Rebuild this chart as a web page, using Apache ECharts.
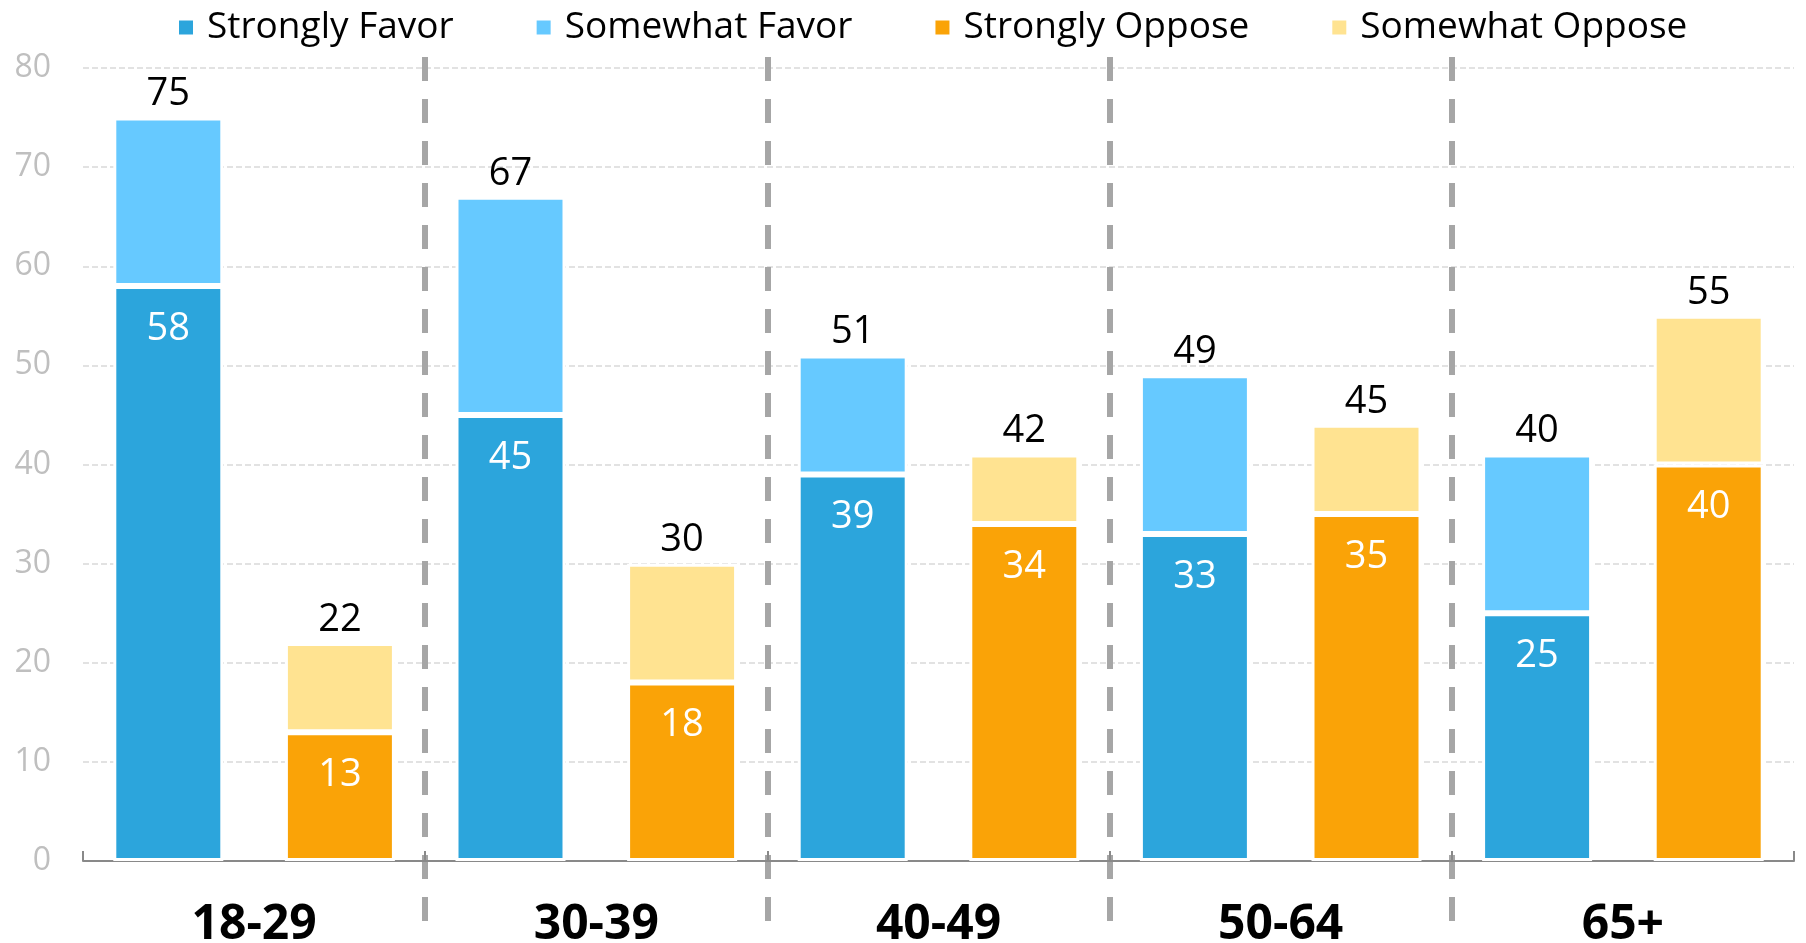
<!DOCTYPE html>
<html>
<head>
<meta charset="utf-8">
<script src="https://cdn.jsdelivr.net/npm/echarts@6/dist/echarts.min.js"></script>
<style>
  html, body { margin: 0; padding: 0; background: #fff; }
  #chart { width: 1806px; height: 943px; }
</style>
</head>
<body>
<div id="chart"></div>
<script>
// age groups on the x axis
const ageGroups = ['18-29', '30-39', '40-49', '50-64', '65+'];

// stacked segments (as drawn)
const stronglyFavor = [58, 45, 39, 33, 25];
const somewhatFavor = [17, 22, 12, 16, 16];
const stronglyOppose = [13, 18, 34, 35, 40];
const somewhatOppose = [9, 12, 7, 9, 15];

// totals printed above each stack
const favorTotals = [75, 67, 51, 49, 40];
const opposeTotals = [22, 30, 42, 45, 55];

const yTicks = { min: 0, max: 80, interval: 10 };

const FONT = '"Open Sans", "Noto Sans", sans-serif';
const colors = {
  stronglyFavor: '#2ca5dc',
  somewhatFavor: '#66c9ff',
  stronglyOppose: '#faa307',
  somewhatOppose: '#ffe391',
};

const chart = echarts.init(document.getElementById('chart'));

const barBase = {
  type: 'bar',
  xAxisIndex: 0,
  yAxisIndex: 0,
  barWidth: 110,
  barGap: '56%',
  itemStyle: { borderColor: '#fff', borderWidth: 3 },
};

// white value label near the top of the lower segment
const innerLabel = {
  show: true,
  position: 'insideTop',
  distance: 24,
  color: '#fff',
  fontFamily: FONT,
  fontSize: 38,
};

// black total above the stack
function totalLabel(totals) {
  return {
    show: true,
    position: 'top',
    distance: 4,
    color: '#000',
    fontFamily: FONT,
    fontSize: 38,
    formatter: (p) => totals[p.dataIndex],
  };
}

const option = {
  animation: false,
  textStyle: { fontFamily: FONT },
  legend: {
    top: 4,
    left: 172,
    itemWidth: 16,
    itemHeight: 16,
    itemGap: 81,
    icon: 'rect',
    textStyle: { fontSize: 37, color: '#000', fontFamily: FONT, padding: [0, 0, 0, 8] },
    data: ['Strongly Favor', 'Somewhat Favor', 'Strongly Oppose', 'Somewhat Oppose'],
  },
  grid: [
    { left: 83, right: 12, top: 68, bottom: 82, outerBoundsMode: 'none' },
    // overlay grid only used for the dashed group separators
    { left: 83, right: 12, top: 57, bottom: 21, outerBoundsMode: 'none' },
  ],
  xAxis: [
    {
      type: 'category',
      gridIndex: 0,
      data: ageGroups,
      axisLine: { lineStyle: { color: '#898989', width: 2 } },
      axisTick: { show: true, inside: true, length: 10, lineStyle: { color: '#898989', width: 2 } },
      axisLabel: {
        color: '#000',
        fontWeight: 'bold',
        fontSize: 48,
        fontFamily: FONT,
        margin: 40,
      },
      splitLine: { show: false },
    },
    {
      type: 'value',
      gridIndex: 1,
      min: 0,
      max: ageGroups.length,
      interval: 1,
      axisLine: { show: false },
      axisTick: { show: false },
      axisLabel: { show: false },
      splitLine: {
        show: true,
        showMinLine: false,
        showMaxLine: false,
        lineStyle: { color: '#a6a6a6', width: 6, type: [24, 18] },
      },
    },
  ],
  yAxis: [
    {
      type: 'value',
      gridIndex: 0,
      ...yTicks,
      axisLine: { show: false },
      axisTick: { show: false },
      axisLabel: { color: '#bfbfbf', fontSize: 32, fontFamily: FONT, margin: 32 },
      splitLine: { lineStyle: { color: '#d9d9d9', width: 1.5, type: [6, 3] } },
    },
    {
      type: 'value',
      gridIndex: 1,
      show: false,
      splitLine: { show: false },
    },
  ],
  series: [
    {
      ...barBase,
      name: 'Strongly Favor',
      stack: 'favor',
      data: stronglyFavor,
      itemStyle: { ...barBase.itemStyle, color: colors.stronglyFavor },
      label: innerLabel,
    },
    {
      ...barBase,
      name: 'Somewhat Favor',
      stack: 'favor',
      data: somewhatFavor,
      itemStyle: { ...barBase.itemStyle, color: colors.somewhatFavor },
      label: totalLabel(favorTotals),
    },
    {
      ...barBase,
      name: 'Strongly Oppose',
      stack: 'oppose',
      data: stronglyOppose,
      itemStyle: { ...barBase.itemStyle, color: colors.stronglyOppose },
      label: innerLabel,
    },
    {
      ...barBase,
      name: 'Somewhat Oppose',
      stack: 'oppose',
      data: somewhatOppose,
      itemStyle: { ...barBase.itemStyle, color: colors.somewhatOppose },
      label: totalLabel(opposeTotals),
    },
  ],
};

chart.setOption(option);
</script>
</body>
</html>
